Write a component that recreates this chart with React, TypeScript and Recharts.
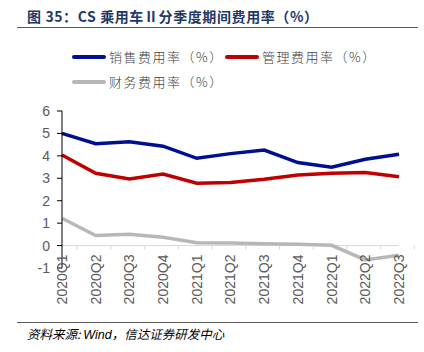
import { LineChart, Line, XAxis, YAxis, ReferenceLine } from "recharts";

const quarters = ["2020Q1", "2020Q2", "2020Q3", "2020Q4", "2021Q1", "2021Q2", "2021Q3", "2021Q4", "2022Q1", "2022Q2", "2022Q3"];
const salesRate = [5.0, 4.54, 4.63, 4.43, 3.89, 4.1, 4.26, 3.7, 3.49, 3.85, 4.07];
const adminRate = [4.04, 3.22, 2.97, 3.19, 2.78, 2.81, 2.96, 3.15, 3.22, 3.26, 3.07];
const financeRate = [1.22, 0.45, 0.51, 0.37, 0.13, 0.11, 0.08, 0.06, 0.01, -0.64, -0.43];
const yTicks = [-1, 0, 1, 2, 3, 4, 5, 6];

const data = quarters.map((q, i) => ({ q, sales: salesRate[i], admin: adminRate[i], finance: financeRate[i] }));

const series = [
  { key: "sales", name: "销售费用率（%）", color: "#000f8f" },
  { key: "admin", name: "管理费用率（%）", color: "#c00000" },
  { key: "finance", name: "财务费用率（%）", color: "#b7b7b7" },
];

const W = 424;
const H = 352;
const xAxisH = 84;
const margin = { top: 111, right: 25, bottom: 0, left: 0 };
const yAxisW = 62;
const plotW = W - margin.left - margin.right - yAxisW;
const band = plotW / quarters.length;
const zeroY = margin.top + ((H - margin.top - xAxisH) * 6) / 7;

const tickFont = "Liberation Sans, Arial, sans-serif";
const cjk = '"Noto Sans CJK SC", sans-serif';

function QuarterTick(props: any) {
  const { x, payload, index } = props;
  return (
    <g>
      <line x1={x + band / 2} x2={x + band / 2} y1={zeroY} y2={zeroY + 4} stroke="#d9d9d9" />
      {index === 0 && <line x1={x - band / 2} x2={x - band / 2} y1={zeroY} y2={zeroY + 4} stroke="#d9d9d9" />}
      <g transform={`translate(${x},${zeroY + 9})`}>
        <text transform="rotate(-90)" textAnchor="end" dy="0.35em" fill="#595959" fontSize={14} fontFamily={tickFont}>
          {payload.value}
        </text>
      </g>
    </g>
  );
}

function LegendItem({ name, color, left, top }: { name: string; color: string; left: number; top: number }) {
  return (
    <div style={{ position: "absolute", left, top, display: "flex", alignItems: "center" }}>
      <div style={{ width: 34, height: 4, background: color, borderRadius: 2, marginRight: 3 }} />
      <span style={{ fontFamily: cjk, fontSize: 13, color: "#404040", fontWeight: 300, letterSpacing: 1.5 }}>{name}</span>
    </div>
  );
}

export default function App() {
  return (
    <div style={{ position: "absolute", left: 0, top: 0, width: W, height: H, background: "#fff" }}>
      <div
        style={{
          position: "absolute",
          left: 27,
          top: 6,
          fontFamily: cjk,
          fontWeight: 700,
          fontSize: 14,
          color: "#1f3864",
          whiteSpace: "nowrap",
          letterSpacing: 0.6,
        }}
      >
        图 35：CS 乘用车Ⅱ分季度期间费用率（%）
      </div>
      <div style={{ position: "absolute", left: 17, top: 27, width: 401, height: 1, background: "#595959" }} />
      <LegendItem name={series[0].name} color={series[0].color} left={72} top={47} />
      <LegendItem name={series[1].name} color={series[1].color} left={225} top={47} />
      <LegendItem name={series[2].name} color={series[2].color} left={72} top={72} />
      <LineChart width={W} height={H} data={data} margin={margin} style={{ position: "absolute", left: 0, top: 0 }}>
        <ReferenceLine y={0} stroke="#d9d9d9" strokeWidth={1} />
        <XAxis dataKey="q" axisLine={false} tickLine={false} tick={<QuarterTick />} interval={0} height={xAxisH} />
        <YAxis
          domain={[-1, 6]}
          ticks={yTicks}
          width={yAxisW}
          axisLine={{ stroke: "#000" }}
          tickLine={{ stroke: "#000" }}
          tickSize={5}
          tickMargin={7}
          tick={{ fill: "#595959", fontSize: 14, fontFamily: tickFont }}
          interval={0}
        />
        {series.map((s) => (
          <Line
            key={s.key}
            type="linear"
            dataKey={s.key}
            name={s.name}
            stroke={s.color}
            strokeWidth={3.5}
            dot={false}
            activeDot={false}
            isAnimationActive={false}
          />
        ))}
      </LineChart>
      <div style={{ position: "absolute", left: 17, top: 322, width: 401, height: 1, background: "#595959" }} />
      <div
        style={{
          position: "absolute",
          left: 27,
          top: 324,
          fontFamily: cjk,
          fontStyle: "italic",
          fontSize: 12.5,
          color: "#000",
          whiteSpace: "nowrap",
        }}
      >
        资料来源: <span style={{ fontFamily: tickFont }}>Wind</span>，信达证券研发中心
      </div>
    </div>
  );
}
